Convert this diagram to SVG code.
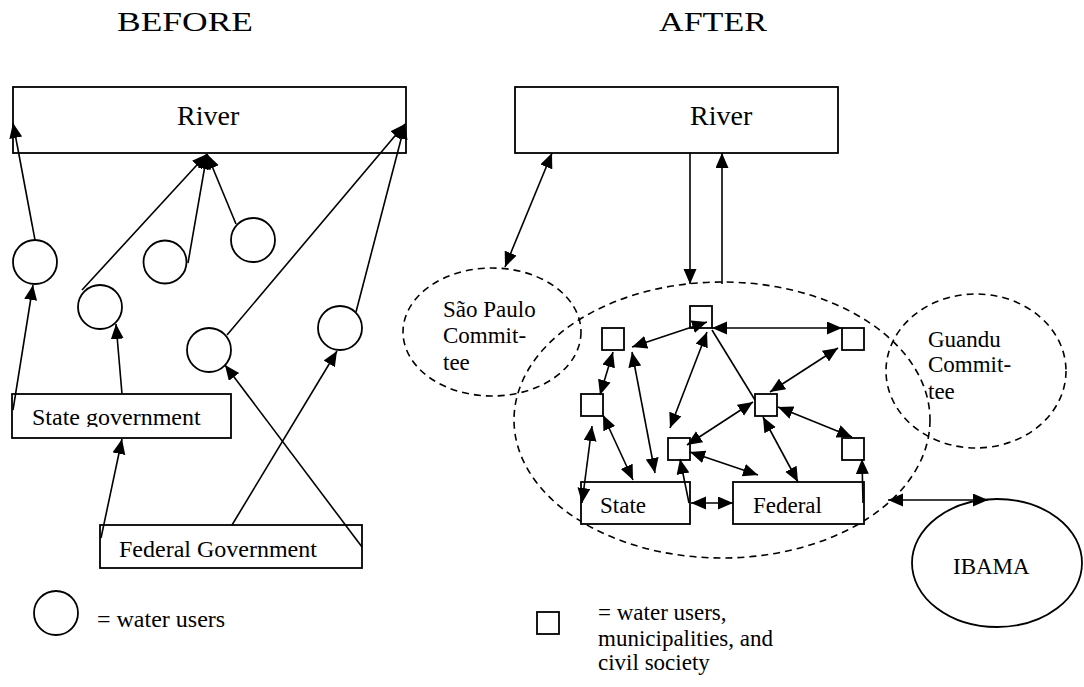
<svg xmlns="http://www.w3.org/2000/svg" width="1084" height="687" viewBox="0 0 1084 687">
<defs>
<marker id="ah" markerUnits="userSpaceOnUse" markerWidth="16" markerHeight="14" refX="15" refY="6.5" orient="auto-start-reverse" viewBox="0 0 16 14">
<path d="M0,0 L15,6.5 L0,13 Z" fill="#000"/>
</marker>
<clipPath id="clipState"><rect x="12" y="394" width="220" height="33"/></clipPath>
</defs>
<style>
text{font-family:"Liberation Serif","Times New Roman",serif;fill:#000}
.box{fill:#fff;stroke:#000;stroke-width:1.8}
.node{fill:#fff;stroke:#000;stroke-width:1.8}
.dash{fill:none;stroke:#000;stroke-width:1.6;stroke-dasharray:7 5}
.c line{stroke:#000;stroke-width:1.6}
.one{marker-end:url(#ah)}
.two{marker-start:url(#ah);marker-end:url(#ah)}
.t24{font-size:24px}
.t23{font-size:23px}
</style>
<rect width="1084" height="687" fill="#fff"/>
<text x="117" y="31" font-size="27" textLength="136" lengthAdjust="spacingAndGlyphs">BEFORE</text>
<text x="659" y="31" font-size="27" textLength="108" lengthAdjust="spacingAndGlyphs">AFTER</text>

<!-- BEFORE nodes -->
<g id="riverL"><rect class="box" x="13" y="87" width="393" height="66"/><text x="177" y="125" font-size="28">River</text></g>
<g id="wu1"><circle class="node" cx="35" cy="262" r="22"/></g>
<g id="wu2"><circle class="node" cx="165" cy="262" r="21.5"/></g>
<g id="wu3"><circle class="node" cx="253" cy="240" r="22"/></g>
<g id="wu4"><circle class="node" cx="100" cy="307" r="22"/></g>
<g id="wu5"><circle class="node" cx="209" cy="350" r="22"/></g>
<g id="wu6"><circle class="node" cx="340" cy="328" r="22"/></g>
<g id="stateGov"><rect class="box" x="12" y="394" width="219" height="44"/><text class="t24" x="32" y="425" clip-path="url(#clipState)">State government</text></g>
<g id="fedGov"><rect class="box" x="100" y="525" width="262" height="43"/><text class="t24" x="119" y="557">Federal Government</text></g>
<g id="legendCircle"><circle class="node" cx="56" cy="613" r="22"/><text class="t24" x="97" y="627">= water users</text></g>

<!-- AFTER nodes -->
<g id="riverR"><rect class="box" x="515" y="87" width="323" height="66"/><text x="690" y="125" font-size="28">River</text></g>
<g id="bigEllipse"><ellipse class="dash" cx="722" cy="420" rx="208" ry="138"/></g>
<g id="saoPaulo"><ellipse class="dash" cx="492" cy="332" rx="89" ry="64"/><text class="t23" x="443" y="317">São Paulo</text><text class="t23" x="443" y="343">Commit-</text><text class="t23" x="443" y="370">tee</text></g>
<g id="guandu"><ellipse class="dash" cx="976" cy="371" rx="90" ry="77"/><text class="t23" x="928" y="347">Guandu</text><text class="t23" x="928" y="372">Commit-</text><text class="t23" x="928" y="399">tee</text></g>
<g id="ibama"><ellipse class="node" cx="997" cy="563" rx="85" ry="64"/><text class="t23" x="953" y="574">IBAMA</text></g>
<g id="s1"><rect class="node" x="690" y="306" width="22" height="22"/></g>
<g id="s2"><rect class="node" x="602" y="328" width="22" height="22"/></g>
<g id="s3"><rect class="node" x="842" y="328" width="22" height="22"/></g>
<g id="s4"><rect class="node" x="581" y="394" width="22" height="22"/></g>
<g id="s5"><rect class="node" x="755" y="394" width="22" height="22"/></g>
<g id="s6"><rect class="node" x="668" y="438" width="22" height="22"/></g>
<g id="s7"><rect class="node" x="842" y="438" width="22" height="22"/></g>
<g id="state"><rect class="box" x="581" y="482" width="109" height="42"/><text class="t23" x="600" y="513">State</text></g>
<g id="federal"><rect class="box" x="733" y="482" width="131" height="42"/><text class="t23" x="753" y="513">Federal</text></g>
<g id="legendSquare"><rect class="node" x="537" y="612" width="22" height="22"/><text class="t23" x="598" y="620">= water users,</text><text class="t23" x="598" y="646">municipalities, and</text><text class="t23" x="598" y="670">civil society</text></g>

<g id="connectors" class="c">
<line class="one" x1="35" y1="240" x2="13" y2="123"/>
<line class="one" x1="13" y1="410" x2="33" y2="285"/>
<line class="one" x1="82" y1="290" x2="207" y2="154"/>
<line class="one" x1="188" y1="263" x2="207" y2="154"/>
<line class="one" x1="236" y1="224" x2="207" y2="154"/>
<line class="one" x1="122" y1="394" x2="116" y2="324"/>
<line class="one" x1="101" y1="538" x2="122" y2="439"/>
<line class="one" x1="232" y1="525" x2="337" y2="351"/>
<line class="one" x1="362" y1="547" x2="225" y2="365"/>
<line class="one" x1="227" y1="335" x2="405" y2="124"/>
<line class="one" x1="356" y1="312" x2="405" y2="124"/>

<line class="two" x1="552" y1="153" x2="505" y2="267"/>
<line class="one" x1="690" y1="153" x2="690" y2="284"/>
<line class="one" x1="722" y1="284" x2="722" y2="153"/>
<line class="two" x1="888" y1="500" x2="988" y2="500"/>

<line class="two" x1="707" y1="322" x2="632" y2="347"/>
<line class="two" x1="712" y1="328" x2="842" y2="328"/>
<line class="two" x1="707" y1="332" x2="670" y2="428"/>
<line x1="712" y1="330" x2="755" y2="400"/>
<line class="two" x1="838" y1="348" x2="770" y2="392"/>
<line class="two" x1="778" y1="407" x2="852" y2="437"/>
<line class="one" x1="863" y1="503" x2="862" y2="459"/>
<line class="two" x1="613" y1="352" x2="600" y2="395"/>
<line class="two" x1="603" y1="415" x2="633" y2="480"/>
<line class="two" x1="582" y1="503" x2="592" y2="426"/>
<line class="two" x1="632" y1="352" x2="655" y2="473"/>
<line class="two" x1="690" y1="452" x2="758" y2="475"/>
<line class="one" x1="689" y1="503" x2="680" y2="459"/>
<line class="two" x1="691" y1="503" x2="733" y2="503"/>
<line class="two" x1="753" y1="402" x2="687" y2="445"/>
<line class="two" x1="763" y1="417" x2="798" y2="482"/>
</g>
</svg>
